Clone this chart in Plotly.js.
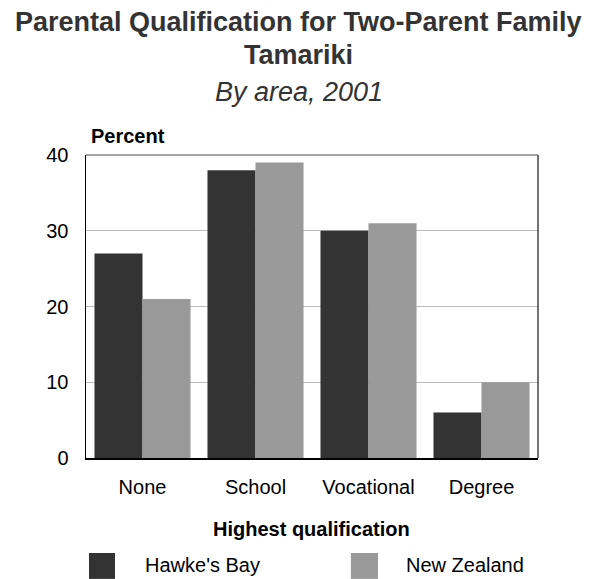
<!DOCTYPE html>
<html>
<head>
<meta charset="utf-8">
<script src="https://cdn.plot.ly/plotly-3.0.1.min.js"></script>
<style>
  html, body { margin: 0; padding: 0; background: #fff; }
  #chart { width: 599px; height: 579px; }
</style>
</head>
<body>
<div id="chart"></div>
<script>
// Parental qualification, two-parent family tamariki, 2001
const categories = ['None', 'School', 'Vocational', 'Degree'];
const hawkesBay = [27, 38, 30, 6];
const newZealand = [21, 39, 31, 10];
const seriesNames = ["Hawke's Bay", 'New Zealand'];
const yTicks = [0, 10, 20, 30, 40];

const COLORS = { hb: '#333333', nz: '#999999', grid: '#bbbbbb', text: '#000000', title: '#333333' };
const FONT = 'Arial, "Liberation Sans", sans-serif';

const traces = [
  { type: 'bar', x: categories, y: hawkesBay, name: seriesNames[0],
    marker: { color: COLORS.hb }, showlegend: false, hoverinfo: 'x+y' },
  { type: 'bar', x: categories, y: newZealand, name: seriesNames[1],
    marker: { color: COLORS.nz }, showlegend: false, hoverinfo: 'x+y' },
];

// legend drawn by hand: the swatches in the original are much bigger than plotly's
const swatchX = [[0.0066, 0.0642], [0.586, 0.646]];
const labelX = [0.126, 0.704];
const legendShapes = seriesNames.map((n, i) => ({
  type: 'rect', xref: 'paper', yref: 'paper',
  x0: swatchX[i][0], x1: swatchX[i][1], y0: -0.399, y1: -0.3135,
  fillcolor: i === 0 ? COLORS.hb : COLORS.nz, line: { width: 0 },
}));
const legendLabels = seriesNames.map((n, i) => ({
  text: n, xref: 'paper', yref: 'paper', x: labelX[i], y: -0.353,
  xanchor: 'left', yanchor: 'middle', showarrow: false,
  font: { family: FONT, size: 20, color: COLORS.text },
}));

// frame: top edge grey, right edge dark grey, left/bottom come from the axis lines
const frame = [
  { type: 'line', xref: 'paper', yref: 'paper', x0: 0, x1: 1, y0: 1, y1: 1, line: { color: '#888', width: 1.5 } },
  { type: 'line', xref: 'paper', yref: 'paper', x0: 1, x1: 1, y0: 0, y1: 1, line: { color: '#444', width: 1.5 } },
];

function textNote(text, x, y, size, extra) {
  return Object.assign({ text, xref: 'paper', yref: 'paper', x, y, xanchor: 'center', yanchor: 'middle',
    showarrow: false, font: { family: FONT, size, color: COLORS.title } }, extra || {});
}

// the titles are centred on the page, not on the plot area
const PAGE_MID = 0.471;

const layout = {
  width: 599, height: 579,
  paper_bgcolor: '#fff', plot_bgcolor: '#fff',
  font: { family: FONT, size: 20, color: COLORS.text },
  margin: { t: 155, r: 61, b: 121, l: 86 },
  barmode: 'group', bargap: 0.15, bargroupgap: 0,
  xaxis: {
    type: 'category', showgrid: false, ticks: '', ticklabelstandoff: 10,
    showline: true, linecolor: '#000', linewidth: 1.5,
    tickfont: { family: FONT, size: 20, color: COLORS.text },
  },
  yaxis: {
    range: [0, 40], tickvals: yTicks, ticks: '', ticklabelstandoff: 12,
    showgrid: true, gridcolor: COLORS.grid, gridwidth: 1, zeroline: false,
    showline: true, linecolor: '#000', linewidth: 1.5,
    tickfont: { family: FONT, size: 20, color: COLORS.text },
  },
  shapes: [...frame, ...legendShapes],
  annotations: [
    textNote('<b>Parental Qualification for Two-Parent Family</b>', PAGE_MID, 1.439, 27),
    textNote('<b>Tamariki</b>', PAGE_MID, 1.330, 27),
    textNote('<i>By area, 2001</i>', PAGE_MID, 1.208, 27),
    textNote('<b>Percent</b>', 0.0066, 1.063, 20, { xanchor: 'left', font: { family: FONT, size: 20, color: COLORS.text } }),
    textNote('<b>Highest qualification</b>', 0.499, -0.234, 20, { font: { family: FONT, size: 20, color: COLORS.text } }),
    ...legendLabels,
  ],
};

Plotly.newPlot('chart', traces, layout, { displayModeBar: false, staticPlot: true });
</script>
</body>
</html>
